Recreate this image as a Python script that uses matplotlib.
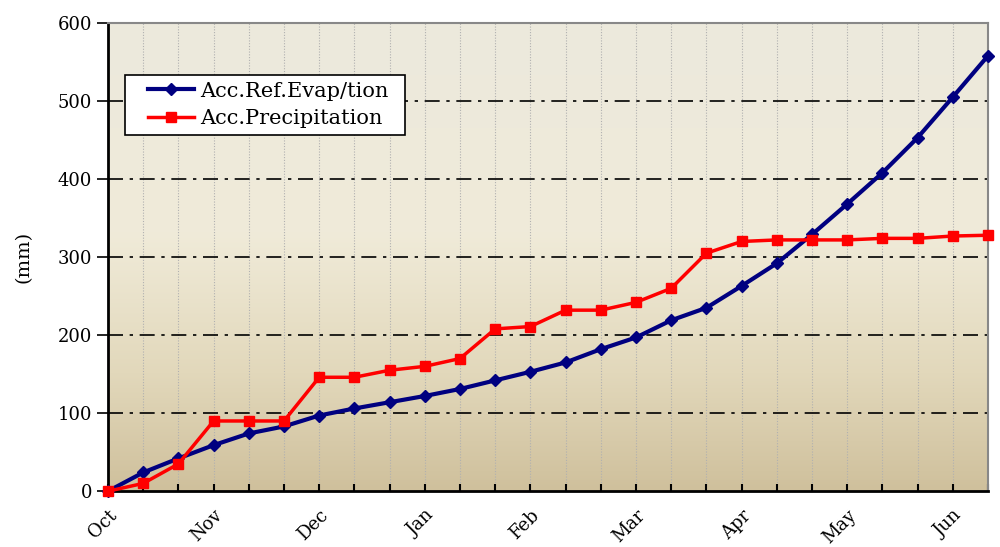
import numpy as np
import matplotlib.pyplot as plt
import matplotlib.transforms as mtransforms
from matplotlib.colors import LinearSegmentedColormap
from matplotlib.patches import Rectangle

# dekads from 1 Oct to end of Jun (26 points)
months = ["Oct", "Nov", "Dec", "Jan", "Feb", "Mar", "Apr", "May", "Jun"]
evap = [0, 24, 42, 59, 74, 83, 97, 106, 114, 122, 131, 142, 153, 165, 182,
        197, 219, 235, 263, 292, 329, 368, 408, 453, 505, 558]
precip = [0, 10, 35, 90, 90, 90, 146, 146, 155, 160, 170, 208, 211, 232, 232,
          242, 260, 305, 320, 322, 322, 322, 324, 324, 327, 328]

plt.rcParams['font.family'] = ['DejaVu Serif']

fig = plt.figure(figsize=(10, 5.47), dpi=100)
ax = fig.add_axes([0.108, 0.102, 0.88, 0.856])

x = np.arange(len(evap))
ax.set_xlim(0, len(evap) - 1)
ax.set_ylim(0, 600)

# background gradient (light top, tan bottom)
cmap = LinearSegmentedColormap.from_list(
    "bg", [(0.0, "#cfc09c"), (0.25, "#e2d8bb"), (0.55, "#f0ebd9"), (1.0, "#ece9dd")])
grad = np.linspace(0, 1, 256).reshape(-1, 1)
ax.imshow(grad, cmap=cmap, origin="lower", aspect="auto",
          extent=[0, len(evap) - 1, 0, 600], zorder=0)

# grid
for xv in x[1:-1]:
    ax.axvline(xv, color="#b0b0b0", lw=0.8, ls=(0, (1, 1.5)), zorder=1)
for yv in range(100, 600, 100):
    ax.axhline(yv, color="black", lw=1.2, ls=(0, (9, 4, 2, 4)), zorder=1)

ax.plot(x, evap, color="#000080", lw=3, marker="D", ms=6,
        label="Acc.Ref.Evap/tion", zorder=3, clip_on=False)
ax.plot(x, precip, color="#ff0000", lw=2.5, marker="s", ms=7,
        label="Acc.Precipitation", zorder=4, clip_on=False)

ax.set_xticks(x)
ax.set_xticklabels([months[i // 3] if i % 3 == 0 else "" for i in x],
                   rotation=45, ha="right", va="top", rotation_mode="anchor",
                   fontsize=13)
shift = mtransforms.ScaledTranslation(5 / 100, 0, fig.dpi_scale_trans)
for lab in ax.get_xticklabels():
    lab.set_transform(lab.get_transform() + shift)
ax.set_yticks(range(0, 601, 100))
ax.tick_params(axis="y", labelsize=13, length=8, width=1.2, direction="out")
ax.tick_params(axis="x", length=5, width=1.5, direction="in", pad=11)
ax.set_ylabel("(mm)", fontsize=14, labelpad=18)

for s in ["left", "bottom"]:
    ax.spines[s].set_linewidth(2)
    ax.spines[s].set_color("black")
for s in ["top", "right"]:
    ax.spines[s].set_linewidth(1.5)
    ax.spines[s].set_color("#888888")

# legend box drawn separately so it can be wider than the entries
ax.add_patch(Rectangle((0.0193, 0.7607), 0.318, 0.1283, transform=ax.transAxes,
                       facecolor="white", edgecolor="black", lw=1.2, zorder=5))
leg = ax.legend(loc="center", bbox_to_anchor=(0.182, 0.825), fontsize=15,
                frameon=False, handlelength=2.2, handletextpad=0.3,
                borderpad=0, labelspacing=0.4, borderaxespad=0)
leg.set_zorder(6)

fig.savefig("out.png", dpi=100)
